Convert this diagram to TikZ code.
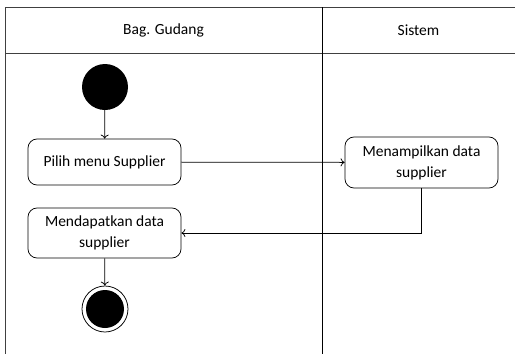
\documentclass[tikz,border=0pt]{standalone}
\usepackage{fontspec}
\setmainfont{Carlito}
\usetikzlibrary{arrows.meta}

\tikzset{
  act/.style={draw, rounded corners=9pt, line width=0.75pt, minimum width=153pt, minimum height=46pt, align=center, inner sep=0.75pt},
  flow/.style={draw, line width=0.75pt, -{To[length=4pt,width=8pt]}},
  lane/.style={draw=black!75, line width=1pt}
}

\begin{document}
\begin{tikzpicture}[x=1pt,y=1pt,yscale=-1,xscale=1,font=\fontsize{15.5}{21}\selectfont]
\useasboundingbox (0,0) rectangle (515,354);

%Swimlanes
\draw [lane] (515,7) -- (5,7) -- (5,354) ;
\draw [lane] (5,53) -- (515,53) ;
\draw [line width=1pt] (322,7) -- (322,354) ;

% Lane titles
\node (gudang) at (163.5,30) {Bag. Gudang};
\node (sistem) at (418.5,30) {Sistem};

%Start
\node (start) [circle, fill=black, minimum size=46pt, inner sep=0pt] at (105,87) {};

%Actions
\node (pilih) [act] at (104.5,162) {Pilih menu Supplier};
\node (tampil) [act, minimum height=51pt] at (421.5,162.5) {Menampilkan data\\supplier};
\node (dapat) [act, minimum height=50pt] at (104.5,233) {Mendapatkan data\\supplier};

%End
\node (stop) [circle, draw, line width=0.75pt, minimum size=46pt, inner sep=0pt] at (105,309) {};
\node (stopin) [circle, fill=black, minimum size=38pt, inner sep=0pt] at (stop) {};

%Flows
\draw [flow] (start) -- (pilih) ;
\draw [flow] (pilih) -- (tampil) ;
\draw [flow] (tampil.south) |- (dapat.east) ;
\draw [flow] (dapat) -- (stop) ;

\end{tikzpicture}
\end{document}
